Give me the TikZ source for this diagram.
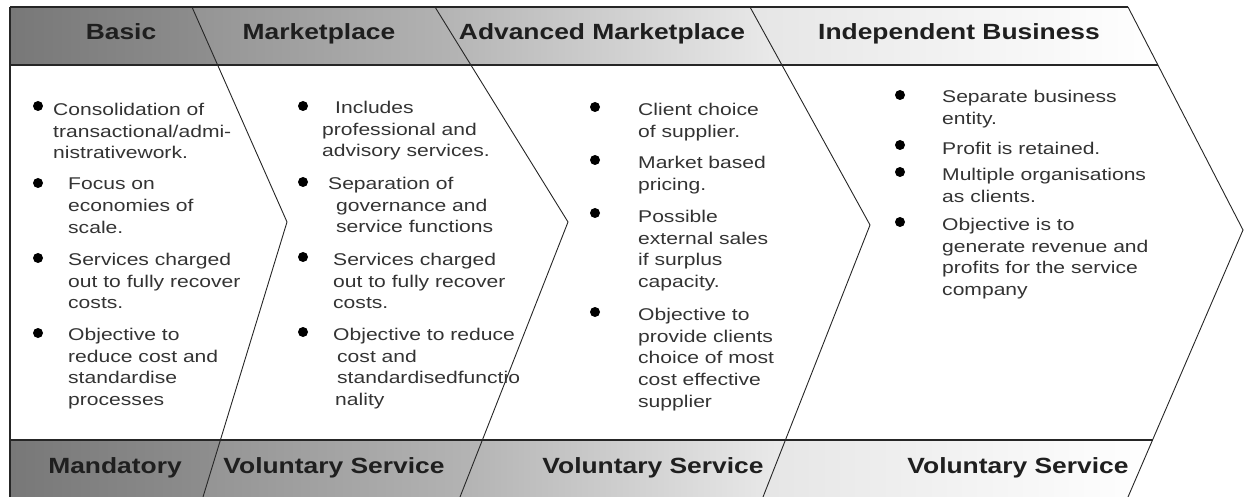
\documentclass[tikz,border=0pt]{standalone}
\usepackage{fontspec}
\newfontfamily\bodyfam[FakeStretch=1.24]{Liberation Sans}
\newfontfamily\headfam[FakeStretch=1.2]{Liberation Sans}

\tikzset{
  head/.style={anchor=base, inner sep=0pt, text=black!88,
    font=\headfam\bfseries\fontsize{22}{26}\selectfont},
  item/.style={anchor=north west, align=left, inner sep=0pt, text=black!80,
    font=\bodyfam\fontsize{17}{21.7}\selectfont},
  dot/.style={circle, fill=black, inner sep=0pt, minimum size=10pt},
  frame/.style={line width=1.6pt, black!85},
  foldline/.style={line width=0.9pt, black!85}
}

\begin{document}
\begin{tikzpicture}[x=1pt, y=-1pt]

\def \leftx {10}
\def \bartop {7}
\def \barbot {65}
\def \lowtop {440}
\def \lowbot {497}

\useasboundingbox (0,0) rectangle (1245,497);

% chevron folds: top, crossing of band edge, tip, crossing of low band, bottom
\coordinate (t1) at (192,\bartop);  \coordinate (u1) at (217.6,\barbot);  \coordinate (p1) at (287,222);
\coordinate (l1) at (220.4,\lowtop); \coordinate (b1) at (203,\lowbot);
\coordinate (t2) at (435,\bartop);  \coordinate (u2) at (470.9,\barbot);  \coordinate (p2) at (568,222);
\coordinate (l2) at (482.4,\lowtop); \coordinate (b2) at (460,\lowbot);
\coordinate (t3) at (750,\bartop);  \coordinate (u3) at (781.9,\barbot);  \coordinate (p3) at (870,225);
\coordinate (l3) at (785.4,\lowtop); \coordinate (b3) at (763,\lowbot);
\coordinate (t4) at (1128,\bartop); \coordinate (u4) at (1157.9,\barbot); \coordinate (p4) at (1243,230);
\coordinate (l4) at (1152.6,\lowtop); \coordinate (b4) at (1128,\lowbot);

% top band
\shade [left color=black!53, right color=black!44] (\leftx,\bartop) -- (t1) -- (u1) -- (\leftx,\barbot) -- cycle;
\shade [left color=black!42, right color=black!29] (t1) -- (t2) -- (u2) -- (u1) -- cycle;
\shade [left color=black!30, right color=black!8] (t2) -- (t3) -- (u3) -- (u2) -- cycle;
\shade [left color=black!10, right color=white] (t3) -- (t4) -- (u4) -- (u3) -- cycle;

% bottom band
\shade [left color=black!53, right color=black!44] (\leftx,\lowtop) -- (l1) -- (b1) -- (\leftx,\lowbot) -- cycle;
\shade [left color=black!42, right color=black!29] (l1) -- (l2) -- (b2) -- (b1) -- cycle;
\shade [left color=black!30, right color=black!8] (l2) -- (l3) -- (b3) -- (b2) -- cycle;
\shade [left color=black!10, right color=white] (l3) -- (l4) -- (b4) -- (b3) -- cycle;

\draw [frame] (\leftx,\bartop) -- (t4);
\draw [frame] (\leftx,\barbot) -- (u4);
\draw [frame] (\leftx,\lowtop) -- (l4);
\draw [frame] (\leftx,\bartop) -- (\leftx,\lowbot);

\draw [foldline] (t1) -- (p1) -- (b1);
\draw [foldline] (t2) -- (p2) -- (b2);
\draw [foldline] (t3) -- (p3) -- (b3);
\draw [foldline] (t4) -- (p4) -- (b4);

% headings
\node [head] (basic) at (121,40) {Basic};
\node [head] (market) at (319,40) {Marketplace};
\node [head] (advanced) at (602,40) {Advanced Marketplace};
\node [head] (business) at (959,40) {Independent Business};

\node [head] (mandatory) at (115,473) {Mandatory};
\node [head] (volA) at (334,473) {Voluntary Service};
\node [head] (volB) at (653,473) {Voluntary Service};
\node [head] (volC) at (1018,473) {Voluntary Service};

% basic
\node [dot] (da1) at (38,106) {};
\node [item] (ia1) at (53,103) {Consolidation of\\transactional/admi-\\nistrativework.};
\node [dot] (da2) at (38,183) {};
\node [item] (ia2) at (68,178) {Focus on\\economies of\\scale.};
\node [dot] (da3) at (38,258) {};
\node [item] (ia3) at (68,253) {Services charged\\out to fully recover\\costs.};
\node [dot] (da4) at (38,333) {};
\node [item] (ia4) at (68,328) {Objective to\\reduce cost and\\standardise\\processes};

% marketplace
\node [dot] (db1) at (303,106) {};
\node [item] (ib1) at (322,101) {\hspace{13pt}Includes\\professional and\\advisory services.};
\node [dot] (db2) at (303,182) {};
\node [item] (ib2) at (328,177) {Separation of\\\hspace{8pt}governance and\\\hspace{8pt}service functions};
\node [dot] (db3) at (303,257) {};
\node [item] (ib3) at (333,253) {Services charged\\out to fully recover\\costs.};
\node [dot] (db4) at (303,332) {};
\begin{scope}
\clip (300,320) rectangle (527,420);
\node [item] (ib4) at (333,328) {Objective to reduce\\\hspace{4pt}cost and\\\hspace{4pt}standardisedfunctio\\\hspace{2pt}nality};
\end{scope}

% advanced marketplace
\node [dot] (dc1) at (595,107) {};
\node [item] (ic1) at (638,103) {Client choice\\of supplier.};
\node [dot] (dc2) at (595,160) {};
\node [item] (ic2) at (638,156) {Market based\\pricing.};
\node [dot] (dc3) at (595,213) {};
\node [item] (ic3) at (638,210) {Possible\\external sales\\if surplus\\capacity.};
\node [dot] (dc4) at (595,312) {};
\node [item] (ic4) at (638,308) {Objective to\\provide clients\\choice of most\\cost effective\\supplier};

% independent business
\node [dot] (dd1) at (900,95) {};
\node [item] (id1) at (942,90) {Separate business\\entity.};
\node [dot] (dd2) at (900,145) {};
\node [item] (id2) at (942,142) {Profit is retained.};
\node [dot] (dd3) at (900,172) {};
\node [item] (id3) at (942,168) {Multiple organisations\\as clients.};
\node [dot] (dd4) at (900,222) {};
\node [item] (id4) at (942,218) {Objective is to\\generate revenue and\\profits for the service\\company};

\end{tikzpicture}
\end{document}
